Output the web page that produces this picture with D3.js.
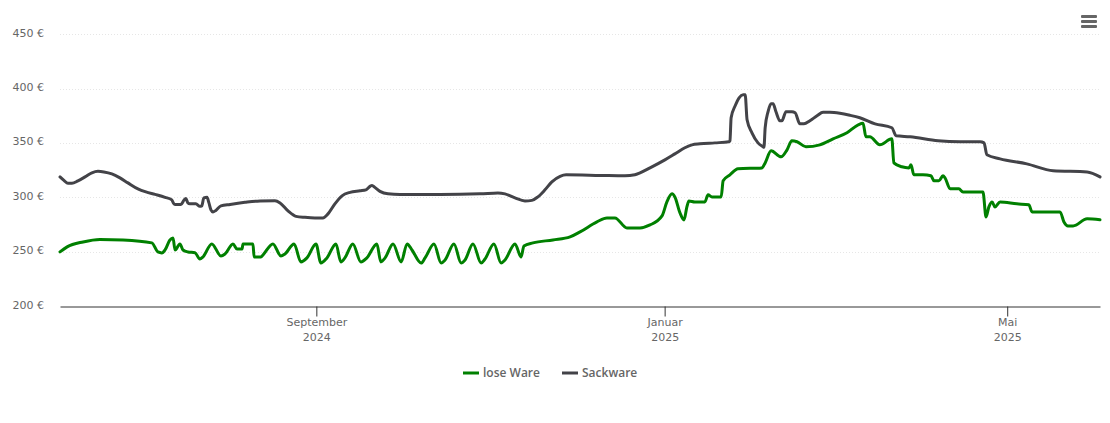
<!DOCTYPE html>
<meta charset="UTF-8">
<style>
body { margin: 0; background: #fff; }
text { font-family: "DejaVu Sans", sans-serif; }
.grid line { stroke: #e6e6e6; stroke-dasharray: 1 2; }
.tick-label { font-size: 11px; fill: #666; }
.line { fill: none; stroke-width: 3px; stroke-linejoin: round; stroke-linecap: round; }
.legend-label { font-family: "Open Sans", sans-serif; font-size: 12px; font-weight: 600; fill: #666; }
</style>
<body>
<script src="https://d3js.org/d3.v7.min.js"></script>
<script>

// days since the first date on the chart
var startDate = new Date(2024, 5, 3, 5);

var loseDays = [0,2.5,8.1,14,22.1,32.2,34.3,35.7,36.8,38.5,39.6,40.3,42,43.1,44.8,47.3,49,50.1,53.2,56.4,57.8,60.6,62,63.8,64.1,67.6,68,70.4,71.1,74.6,77.4,78.8,82,84.4,86.5,89.7,91.4,93.5,96.7,98.4,99.8,102.6,105.4,107.5,111,112.4,113.9,116.7,119.5,121.6,123.3,126.5,127.9,131,133.5,134.9,138,140.5,141.9,144.7,147.5,148.9,152,154.5,155.9,159.4,161.5,162.5,165.7,172.7,178.7,182.2,188.1,191.6,194.4,198.6,203.2,206.7,210.9,212.6,214.4,215.4,217.2,218.6,219.6,220.3,222.4,225.9,227,228.4,231.6,232.3,234.7,237.5,245.9,247,249.1,252.6,254.7,256.4,258.2,261.3,266.2,270.8,275.7,279.6,281.3,282.3,283.7,287.2,291.4,292.1,294.9,297.4,298.1,299.1,302.3,305.1,306.2,307.9,309.3,310,311.8,314.9,316.3,323.3,324.4,325.4,326.5,327.5,329.3,335.2,339.4,340.5,350.3,351.7,353.1,354.9,359.8,364.3];
var loseValues = [250.2,254.8,259.4,261.7,261.2,258.5,250.2,249.3,252,261.2,263.1,252,257.6,252,250.2,249.5,243.7,245.6,257.6,246.5,248.3,257.6,252.9,252.9,257.6,257.6,245.6,245.6,247.4,257.6,246.5,248.3,257.6,241,244.7,257.6,240,244.7,257.6,241,244.7,257.6,241,244.7,257.6,241,244.7,257.6,241,257.6,252,240,244.7,257.6,240,242.8,257.6,240,242.8,257.6,240,243.7,257.6,240,242.8,257.6,245.6,255.7,258.5,261.2,264,268.6,277.8,281.5,281.5,272.3,272.3,275,283.3,296.2,303.6,300.8,286.1,279.6,291.6,297.1,296.2,296.2,302.7,300.8,300.8,315.6,321.1,326.6,327.5,332.1,343.2,337.7,344.1,352.4,351.5,346.9,348.7,354.2,359.8,367.1,368.5,356.1,356.1,348.7,354.2,332.1,328.5,327.5,330.3,321.1,321.1,320.2,315.6,315.6,320.2,318.3,308.2,308.2,305.4,305.4,282.4,291.6,296.2,291.6,296.2,294.4,293.5,287,287,277.8,274.1,274.1,280.6,279.7];

var sackDays = [0,1.4,2.8,4.2,6.3,8.8,11.2,13.3,15.4,18.2,21,23.8,27.3,30.1,33.3,36.8,39.2,39.8,40.3,42.4,43.4,44.1,44.8,45.5,47.6,49,49.7,50.4,51.5,52.2,52.9,53.6,54.6,56.4,59.6,64.8,70.1,75.3,77.1,79.9,82.7,85.8,89.3,92.1,93.9,96.3,98.8,101.6,105.1,107.2,108.6,109.3,110.3,112.1,114.9,119.1,133.1,147.1,153.4,155.9,159.4,162.9,165.3,167.4,169.9,172.3,175.2,177.3,189.2,197.9,201.4,203.2,206.7,211.9,215.4,218.9,221.4,224.2,229.4,234.3,234.7,235.1,236.5,237.9,239.3,240,240.7,242.4,244.5,246.3,246.6,247,248,249.1,249.8,250.8,252.2,252.9,254.3,256.4,257.5,259.2,260.6,262.7,265.2,267.3,269.7,273.2,276.7,280.2,285.5,291.4,292.9,297.8,307.6,315.3,322.3,323.7,324.7,329.3,338.7,347.9,359.8,364.3];
var sackValues = [319.2,316,313.3,313.3,315.6,319.2,322.9,324.3,323.8,322,318.3,313.7,308.2,305.4,303.1,300.4,298.1,294.8,293.9,293.9,297.6,299.4,295.3,294.4,294.4,292.1,292.5,299.9,300.4,295.3,288.9,287,288.4,292.5,293.9,295.8,297.1,297.3,295.3,287.9,282.9,282,281.5,281.5,285.2,294.4,301.8,305,306.4,307.3,310.5,311.4,309.6,305.9,303.6,303.1,303.1,303.6,304.5,303.6,299.9,297.1,297.6,300.8,307.3,314.6,319.7,321.1,320.6,320.2,321.1,322.9,327.5,334.9,340.4,346,348.7,349.6,350.5,351.5,352.4,373.6,384.6,392,394.8,394.8,371.7,359.8,350.5,346.9,346.4,364.4,379.1,386.5,386.5,379.1,370.8,370.8,379.1,379.1,378.2,368,368,370.8,375.4,378.6,378.6,377.7,375.9,373.6,368,364.4,357,356.1,352.4,351.5,351.5,350.5,339.5,335.8,331.2,324.8,323.8,319.2];

var yTicks = [200, 250, 300, 350, 400, 450];
var xTicks = [new Date(2024, 8, 1), new Date(2025, 0, 1), new Date(2025, 4, 1)];
var xTickLabels = [["September", "2024"], ["Januar", "2025"], ["Mai", "2025"]];
var seriesNames = ["lose Ware", "Sackware"];
var seriesColors = ["#008000", "#434348"];

var width = 1110, height = 423;
var margin = {top: 34.7, right: 10, bottom: 116.5, left: 60};

var svg = d3.select("body").append("svg")
    .attr("width", width)
    .attr("height", height)
    .style("display", "block");

var x = d3.scaleTime()
    .domain([startDate, d3.timeHour.offset(startDate, 364.3 * 24)])
    .range([margin.left, width - margin.right]);

var y = d3.scaleLinear()
    .domain([200, 450])
    .range([height - margin.bottom, margin.top]);

// dotted grid lines
svg.append("g").attr("class", "grid")
  .selectAll("line")
  .data(yTicks.slice(1))
  .enter().append("line")
    .attr("x1", margin.left)
    .attr("x2", width - margin.right)
    .attr("y1", function(d) { return Math.floor(y(d)) + 0.5; })
    .attr("y2", function(d) { return Math.floor(y(d)) + 0.5; });

// y axis labels, drawn by the axis generator, domain line removed
var yAxis = svg.append("g")
    .attr("transform", "translate(" + (margin.left - 16) + ",-2)")
    .call(d3.axisLeft(y).tickValues(yTicks).tickSize(0).tickPadding(0)
      .tickFormat(function(d) { return d + " €"; }));
yAxis.select(".domain").remove();
yAxis.selectAll("text").attr("class", "tick-label");
yAxis.attr("font-family", null).attr("font-size", null);

// x axis
var xAxis = svg.append("g")
    .attr("transform", "translate(0," + (Math.floor(y(200)) + 0.5) + ")")
    .call(d3.axisBottom(x).tickValues(xTicks).tickSize(10).tickSizeOuter(0).tickFormat(""));
xAxis.attr("font-family", null).attr("font-size", null);
xAxis.select(".domain").attr("stroke", "#333");
xAxis.selectAll(".tick line").attr("stroke", "#333");

xAxis.selectAll(".tick text")
    .attr("class", "tick-label")
    .attr("y", 19.5)
    .each(function(d, i) {
      var text = d3.select(this);
      xTickLabels[i].forEach(function(label, j) {
        text.append("tspan").attr("x", 0).attr("dy", j ? 15 : 0).text(label);
      });
    });

function drawSeries(days, values, color) {
  var line = d3.line()
      .x(function(d) { return x(d3.timeHour.offset(startDate, d * 24)); })
      .y(function(d, i) { return y(values[i]); })
      .curve(d3.curveMonotoneX);
  svg.append("path")
      .datum(days)
      .attr("class", "line")
      .attr("stroke", color)
      .attr("d", line);
}

drawSeries(sackDays, sackValues, seriesColors[1]);
drawSeries(loseDays, loseValues, seriesColors[0]);

// legend
var legendX = [463, 562];
seriesNames.forEach(function(name, i) {
  var g = svg.append("g").attr("transform", "translate(" + legendX[i] + ",373)");
  g.append("line").attr("x2", 16).attr("stroke", seriesColors[i]).attr("stroke-width", 3);
  g.append("text").attr("class", "legend-label").attr("x", 20).attr("y", 4).text(name);
});

// menu button
svg.append("g").selectAll("rect")
  .data([0, 1, 2])
  .enter().append("rect")
    .attr("x", 1081)
    .attr("y", function(d) { return 15 + d * 5; })
    .attr("width", 16)
    .attr("height", 3)
    .attr("rx", 1)
    .attr("fill", "#666");

</script>
</body>
